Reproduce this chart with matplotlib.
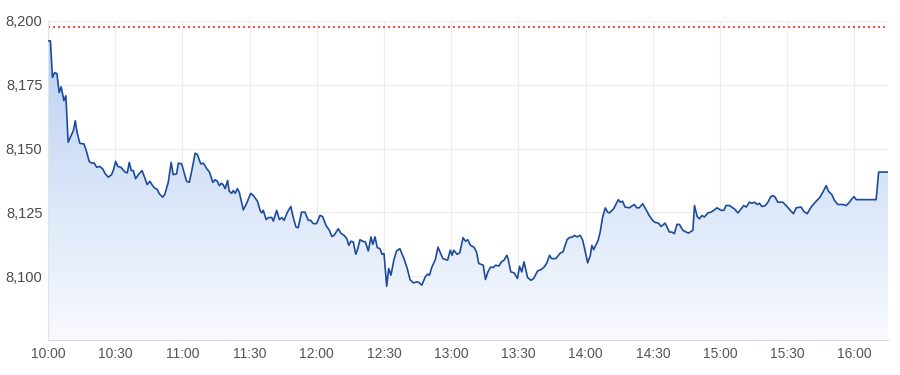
import matplotlib.pyplot as plt
import numpy as np
from matplotlib.colors import LinearSegmentedColormap

# minutes after 10:00 and index level
minutes = [
    0.0, 1.1, 2.0, 3.0, 4.0, 5.0, 5.9, 7.1, 8.0, 9.0, 10.1, 11.3, 12.2, 13.0, 14.2, 16.1,
    17.3, 18.4, 19.5, 20.6, 21.7, 23.1, 24.4, 25.6, 26.9, 28.4, 29.4, 30.2, 31.2, 32.5,
    34.4, 35.4, 36.3, 37.2, 38.1, 39.1, 40.6, 42.0, 43.2, 44.3, 45.5, 46.7, 47.6, 48.8,
    49.7, 51.2, 52.1, 53.7, 55.0, 55.9, 57.4, 58.2, 59.7, 60.7, 61.9, 63.1, 64.2, 65.7,
    66.7, 68.2, 69.4, 70.9, 72.1, 73.6, 74.6, 75.6, 76.5, 77.4, 78.2, 79.1, 80.2, 80.9,
    82.0, 82.7, 83.6, 84.5, 85.4, 87.2, 88.7, 90.5, 91.7, 93.5, 94.7, 95.4, 96.1, 97.4,
    98.4, 99.9, 100.6, 102.1, 103.3, 104.4, 105.4, 106.9, 108.4, 109.5, 110.7, 111.7,
    113.2, 114.7, 116.2, 117.3, 118.4, 119.9, 121.4, 122.6, 124.1, 125.6, 126.7, 127.7,
    129.6, 130.7, 132.2, 133.4, 134.3, 135.2, 136.3, 137.4, 138.1, 139.3, 140.5, 141.7,
    143.0, 144.2, 145.0, 146.0, 147.0, 148.2, 149.1, 150.0, 151.2, 152.1, 153.1, 154.4,
    155.6, 157.1, 158.9, 160.4, 161.6, 163.1, 164.9, 165.8, 166.9, 168.4, 169.4, 170.3,
    171.4, 172.9, 174.1, 174.8, 176.3, 177.4, 178.4, 179.6, 180.4, 181.1, 182.6, 183.8,
    185.3, 186.4, 187.4, 188.6, 190.1, 191.3, 192.3, 194.3, 195.3, 196.4, 197.6, 198.8,
    199.8, 201.3, 202.4, 203.6, 204.8, 205.4, 206.6, 208.1, 209.6, 210.5, 211.5, 212.5,
    214.1, 215.6, 216.8, 218.6, 220.1, 221.5, 222.7, 223.9, 224.8, 226.7, 228.7, 229.9,
    231.7, 232.7, 234.2, 235.0, 236.1, 237.6, 238.7, 239.7, 240.9, 242.1, 242.8, 243.6,
    245.6, 246.5, 247.6, 248.8, 249.8, 250.6, 252.5, 254.6, 255.5, 256.5, 257.6, 259.5,
    261.7, 262.9, 263.9, 265.5, 267.0, 268.4, 269.9, 271.0, 272.5, 273.7, 275.5, 277.4,
    278.5, 279.6, 280.8, 281.9, 283.4, 284.9, 285.9, 286.8, 287.9, 288.6, 289.8, 290.8,
    291.9, 293.0, 294.6, 296.0, 297.5, 298.7, 300.5, 301.7, 302.7, 304.2, 306.4, 308.0,
    309.4, 310.6, 311.7, 313.1, 314.2, 315.4, 316.6, 317.6, 318.7, 320.2, 321.4, 322.5,
    323.6, 324.6, 325.8, 328.0, 329.5, 331.8, 332.8, 334.0, 336.2, 337.4, 338.9, 340.7,
    342.5, 344.4, 345.9, 347.4, 348.4, 349.9, 351.1, 352.6, 354.8, 356.3, 357.4, 358.6,
    359.8, 360.8, 369.7, 370.8, 375.0,
]
prices = [
    8192.2, 8192.2, 8177.9, 8179.8, 8179.4, 8172.0, 8174.2, 8168.8, 8170.7, 8152.5, 8154.7,
    8157.0, 8160.9, 8156.4, 8152.1, 8151.8, 8148.6, 8145.0, 8144.3, 8144.4, 8142.7, 8143.0,
    8142.1, 8140.1, 8138.8, 8139.8, 8142.1, 8145.0, 8143.0, 8142.7, 8140.8, 8140.5, 8144.6,
    8141.4, 8141.4, 8138.2, 8140.1, 8141.4, 8138.6, 8135.9, 8137.2, 8135.5, 8134.6, 8134.0,
    8132.3, 8131.0, 8132.0, 8136.8, 8144.6, 8139.8, 8140.1, 8144.3, 8144.0, 8140.8, 8137.2,
    8136.8, 8141.4, 8148.2, 8147.7, 8144.0, 8144.3, 8142.1, 8140.8, 8136.8, 8137.8, 8137.2,
    8135.5, 8136.4, 8135.9, 8134.3, 8137.5, 8133.3, 8132.5, 8133.6, 8132.5, 8134.3, 8132.9,
    8126.0, 8128.6, 8132.5, 8131.6, 8129.4, 8125.8, 8124.8, 8125.8, 8122.2, 8123.0, 8123.0,
    8121.6, 8125.8, 8122.2, 8123.0, 8121.9, 8125.1, 8127.3, 8123.0, 8119.3, 8119.0, 8125.1,
    8125.1, 8121.9, 8121.9, 8120.6, 8120.6, 8123.8, 8123.4, 8119.9, 8118.0, 8115.6, 8116.0,
    8118.6, 8116.9, 8116.0, 8114.7, 8112.1, 8113.7, 8113.4, 8108.6, 8110.2, 8114.3, 8113.7,
    8113.4, 8109.9, 8115.4, 8112.5, 8115.4, 8111.2, 8110.8, 8108.6, 8108.9, 8096.1, 8103.0,
    8100.4, 8106.3, 8109.9, 8110.8, 8106.9, 8103.0, 8098.7, 8097.4, 8097.8, 8097.4, 8096.5,
    8099.7, 8100.8, 8100.4, 8103.6, 8106.5, 8111.4, 8109.9, 8106.9, 8106.6, 8106.3, 8110.2,
    8108.2, 8110.2, 8108.6, 8109.1, 8115.1, 8113.7, 8114.3, 8112.1, 8111.4, 8109.5, 8105.0,
    8104.3, 8098.7, 8101.7, 8103.6, 8103.4, 8104.3, 8104.0, 8105.6, 8106.3, 8108.2, 8106.9,
    8101.7, 8101.3, 8099.1, 8103.9, 8101.7, 8105.6, 8099.5, 8098.4, 8099.1, 8102.1, 8102.6,
    8103.6, 8105.2, 8108.2, 8106.9, 8106.9, 8109.1, 8109.5, 8114.3, 8115.1, 8115.4, 8116.0,
    8115.4, 8116.0, 8114.1, 8110.2, 8105.2, 8108.2, 8112.1, 8110.4, 8114.1, 8117.3, 8123.2,
    8126.8, 8125.1, 8124.8, 8126.4, 8130.0, 8129.0, 8129.4, 8127.1, 8126.8, 8128.1, 8126.8,
    8126.8, 8128.4, 8126.0, 8123.8, 8121.9, 8121.1, 8120.8, 8119.5, 8120.8, 8117.3, 8117.3,
    8116.7, 8120.3, 8120.3, 8118.0, 8117.3, 8116.9, 8117.4, 8118.0, 8127.7, 8123.4, 8122.5,
    8123.8, 8123.2, 8124.8, 8125.1, 8126.0, 8126.8, 8125.8, 8125.8, 8127.7, 8127.7, 8126.4,
    8124.8, 8126.4, 8127.7, 8127.1, 8129.0, 8128.6, 8129.0, 8128.1, 8128.6, 8127.3, 8127.7,
    8129.0, 8131.0, 8131.6, 8131.0, 8129.0, 8129.0, 8127.7, 8125.4, 8124.5, 8126.8, 8127.1,
    8125.4, 8124.5, 8127.1, 8129.0, 8130.7, 8132.9, 8135.5, 8133.3, 8132.0, 8129.7, 8128.1,
    8128.1, 8127.7, 8128.6, 8130.0, 8131.2, 8130.0, 8130.0, 8140.8, 8140.8,
]
prev_close = 8197.7

x_ticks = [0, 30, 60, 90, 120, 150, 180, 210, 240, 270, 300, 330, 360]
x_labels = ["10:00", "10:30", "11:00", "11:30", "12:00", "12:30", "13:00",
            "13:30", "14:00", "14:30", "15:00", "15:30", "16:00"]
y_ticks = [8100, 8125, 8150, 8175, 8200]
y_labels = ["8,100", "8,125", "8,150", "8,175", "8,200"]

plt.rcParams['font.family'] = ['Liberation Sans', 'DejaVu Sans']

fig = plt.figure(figsize=(9, 3.75), dpi=100)
ax = fig.add_axes([0.0533, 0.0933, 0.9334, 0.8507])
x0, x1 = 0, 375
y0, y1 = 8075, 8200
ax.set_xlim(x0, x1)
ax.set_ylim(y0, y1)

# gradient area under the line
cmap = LinearSegmentedColormap.from_list('fill', ['#f8fafe', '#b6cef2'])
grad = np.linspace(0, 1, 256).reshape(-1, 1)
img = ax.imshow(grad, cmap=cmap, extent=[x0, x1, y0, y1], origin='lower',
                aspect='auto', zorder=1)
poly = ax.fill_between(minutes, prices, y0, color='none', lw=0)
img.set_clip_path(poly.get_paths()[0], transform=ax.transData)

ax.plot(minutes, prices, color='#1d4b9c', lw=1.2, zorder=3)
# previous close
ax.axhline(prev_close, color='#ff2a1a', lw=1.2, ls=(0, (1.2, 1.8)), zorder=2)

ax.set_xticks(x_ticks)
ax.set_xticklabels(x_labels)
ax.set_yticks(y_ticks)
ax.set_yticklabels(y_labels)
ax.grid(True, color='#ececec', lw=0.8, zorder=0)
ax.set_axisbelow(True)
ax.tick_params(axis='y', length=0, labelsize=10.5, colors='#4a4a4a', pad=4)
ax.tick_params(axis='x', length=0, labelsize=10, colors='#555555', pad=5)

for side in ['top', 'right']:
    ax.spines[side].set_visible(False)
ax.spines['left'].set_color('#e3e3e3')
ax.spines['bottom'].set_color('#d6d6d6')

fig.savefig('out.png', dpi=100)
